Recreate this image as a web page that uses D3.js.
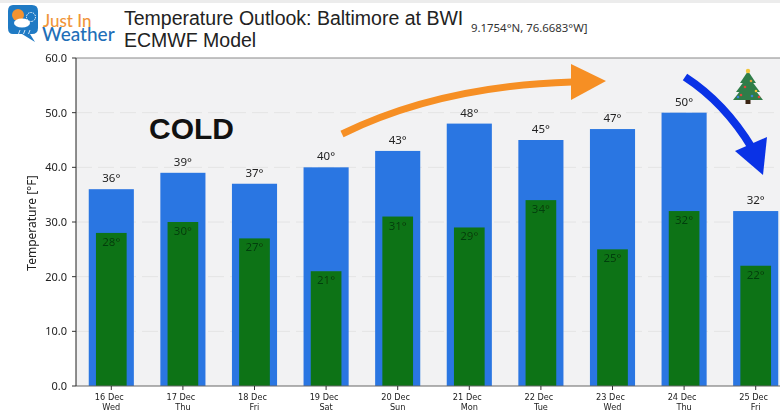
<!DOCTYPE html>
<html><head><meta charset="utf-8">
<script src="https://cdn.jsdelivr.net/npm/d3@7/dist/d3.min.js"></script>
<style>html,body{margin:0;padding:0;background:#fff;overflow:hidden}svg{display:block}</style></head>
<body><svg id="c" width="780" height="412"></svg>
<script>
const dates = ["16 Dec","17 Dec","18 Dec","19 Dec","20 Dec","21 Dec","22 Dec","23 Dec","24 Dec","25 Dec"];
const days = ["Wed","Thu","Fri","Sat","Sun","Mon","Tue","Wed","Thu","Fri"];
const highs = [36,39,37,40,43,48,45,47,50,32];
const lows = [28,30,27,21,31,29,34,25,32,22];
const yTicks = [0,10,20,30,40,50,60];

const svg = d3.select("#c");
const font = "'Noto Sans',sans-serif";
const H = 412, W = 780;
const L = 76, T = 58, B = 386;
const x = d3.scaleBand().domain(dates).range([L-0.5, L+715.5]).paddingInner(0.37).paddingOuter(0.185);
const y = d3.scaleLinear().domain([0,60]).range([B,T]);
const defs = svg.append("defs");
const blur = defs.append("filter").attr("id","soft");
blur.append("feGaussianBlur").attr("stdDeviation",0.35);
const clip = defs.append("clipPath").attr("id","plot");
clip.append("rect").attr("x",L).attr("y",T).attr("width",W-L).attr("height",B-T);

svg.append("rect").attr("width",W).attr("height",3).attr("fill","#ececec");
svg.append("rect").attr("x",L).attr("y",T).attr("width",W-L).attr("height",B-T).attr("fill","#f2f2f3");

const g = svg.append("g").attr("filter","url(#soft)");
g.selectAll(".grid").data(yTicks.slice(1,-1)).join("line")
  .attr("x1",L).attr("x2",W).attr("y1",d=>y(d)).attr("y2",d=>y(d))
  .attr("stroke","#e4e4e4").attr("stroke-width",1).attr("stroke-dasharray","16 6");

const bars = g.append("g").attr("clip-path","url(#plot)");
bars.selectAll(".hi").data(dates).join("rect")
  .attr("x",d=>x(d)).attr("width",x.bandwidth())
  .attr("y",(d,i)=>y(highs[i])).attr("height",(d,i)=>B-y(highs[i])).attr("fill","#2a76e2");
const lowW = x.bandwidth()*0.68;
bars.selectAll(".lo").data(dates).join("rect")
  .attr("x",d=>x(d)+(x.bandwidth()-lowW)/2).attr("width",lowW)
  .attr("y",(d,i)=>y(lows[i])).attr("height",(d,i)=>B-y(lows[i])).attr("fill","#0d7317");

g.selectAll(".hl").data(dates).join("text")
  .attr("x",d=>x(d)+x.bandwidth()/2).attr("y",(d,i)=>y(highs[i])-7)
  .attr("text-anchor","middle").attr("font-family",font).attr("font-size",11.5).attr("fill","#222")
  .text((d,i)=>highs[i]+"°");
g.selectAll(".ll").data(dates).join("text")
  .attr("x",d=>x(d)+x.bandwidth()/2).attr("y",(d,i)=>y(lows[i])+13)
  .attr("text-anchor","middle").attr("font-family",font).attr("font-size",11.5).attr("fill","#053f0c")
  .text((d,i)=>lows[i]+"°");

// axes
const ax = g.append("g").attr("font-family",font);
ax.append("line").attr("x1",L).attr("x2",W).attr("y1",T).attr("y2",T).attr("stroke","#8a8a8a").attr("stroke-width",1.2);
ax.append("line").attr("x1",L).attr("x2",W).attr("y1",B).attr("y2",B).attr("stroke","#666").attr("stroke-width",1.2);
ax.append("line").attr("x1",L).attr("x2",L).attr("y1",T).attr("y2",B).attr("stroke","#333").attr("stroke-width",1.1);
ax.selectAll(".yt").data(yTicks).join("line").attr("x1",L-4).attr("x2",L).attr("y1",d=>y(d)).attr("y2",d=>y(d)).attr("stroke","#333");
ax.selectAll(".yl").data(yTicks).join("text").attr("x",L-9).attr("y",d=>y(d)+4).attr("text-anchor","end")
  .attr("font-size",11).attr("fill","#222").text(d=>d3.format(".1f")(d));
ax.selectAll(".xt").data(dates).join("line").attr("x1",d=>x(d)+x.bandwidth()/2).attr("x2",d=>x(d)+x.bandwidth()/2)
  .attr("y1",B).attr("y2",B+4).attr("stroke","#333");
ax.selectAll(".xd").data(dates).join("text").attr("x",d=>x(d)+x.bandwidth()/2-2).attr("y",400).attr("text-anchor","middle")
  .attr("font-family","'DejaVu Sans',sans-serif").attr("font-size",8.2).attr("fill","#222").text(d=>d);
ax.selectAll(".xw").data(dates).join("text").attr("x",d=>x(d)+x.bandwidth()/2).attr("y",410).attr("text-anchor","middle")
  .attr("font-family","'DejaVu Sans',sans-serif").attr("font-size",8.2).attr("fill","#222").text((d,i)=>days[i]);
ax.append("text").attr("transform","translate(36,"+((T+B)/2+1)+") rotate(-90)").attr("text-anchor","middle")
  .attr("font-size",12).attr("fill","#222").text("Temperature [°F]");

// titles
const tf = "'Liberation Sans',Arial,sans-serif";
const ttl = svg.append("text").attr("font-family",tf).attr("font-size",19.5).attr("fill","#222");
ttl.append("tspan").attr("x",124).attr("y",25).text("Temperature Outlook: Baltimore at BWI");
ttl.append("tspan").attr("x",124).attr("y",47).text("ECMWF Model");
svg.append("text").attr("x",471).attr("y",32).attr("font-family",font).attr("font-size",11.4).attr("fill","#333").text("9.1754°N, 76.6683°W]");
svg.append("text").attr("x",149).attr("y",139).attr("font-family",tf).attr("font-weight","bold").attr("font-size",30).attr("fill","#111").text("COLD");

// annotations
const an = svg.append("g");
an.append("path").attr("d","M342 134 Q 440 86 572 82").attr("fill","none").attr("stroke","#f68f24").attr("stroke-width",7);
an.append("path").attr("d","M571 64 L606 81 L571 100 Z").attr("fill","#f68f24");
an.append("path").attr("d","M685 77 Q 725 103 752 148").attr("fill","none").attr("stroke","#0a32e6").attr("stroke-width",8);
an.append("path").attr("d","M735 151 L767 137 L763 175 Z").attr("fill","#0a32e6");

// tree
const tree = svg.append("g").attr("transform","translate(748,69)");
tree.append("rect").attr("x",-2.5).attr("y",29).attr("width",5).attr("height",6).attr("fill","#3a2412");
[[-15,31,15,31,0,12],[-12,23,12,23,0,7],[-8,14,8,14,0,2]].forEach(p=>
  tree.append("path").attr("d",`M${p[0]} ${p[1]} L${p[2]} ${p[3]} L${p[4]} ${p[5]} Z`).attr("fill","#2f7d48"));
tree.append("circle").attr("cy",2).attr("r",2.2).attr("fill","#f3c63a");
[[-7,26,"#d9483b"],[4,27,"#3b82d9"],[8,22,"#f3c63a"],[-3,18,"#d9483b"],[3,12,"#d9a03b"],[-10,28,"#3b82d9"],[11,28,"#d9483b"]].forEach(c=>
  tree.append("circle").attr("cx",c[0]).attr("cy",c[1]).attr("r",1.3).attr("fill",c[2]));

// logo
const lg = svg.append("g");
lg.append("path").attr("d","M13 5 H32 Q38 5 38 11 V28 Q38 34 32 34 H30 L35 42 L22 34 H13 Q8 34 8 28 V11 Q8 5 13 5 Z").attr("fill","#1f7ac4");
lg.append("circle").attr("cx",18).attr("cy",15).attr("r",6).attr("fill","#f59331");
lg.append("ellipse").attr("cx",22).attr("cy",23).attr("rx",8).attr("ry",4.5).attr("fill","#fff");
lg.append("circle").attr("cx",31).attr("cy",17).attr("r",4.5).attr("fill","none").attr("stroke","#fff").attr("stroke-width",1).attr("stroke-dasharray","1.5 1");
lg.append("path").attr("d","M20 30 l-1.5 4 M25 30 l-1.5 4 M30 30 l-1.5 4").attr("stroke","#cfe3f5").attr("stroke-width",1);
const lt = lg.append("text").attr("font-family","Lato,sans-serif").attr("font-weight",500);
lt.append("tspan").attr("x",43).attr("y",27).attr("font-size",17).attr("fill","#f0953a").text("Just In");
lt.append("tspan").attr("x",42).attr("y",41).attr("font-size",19).attr("fill","#1f6fb8").text("Weather");
</script></body></html>
